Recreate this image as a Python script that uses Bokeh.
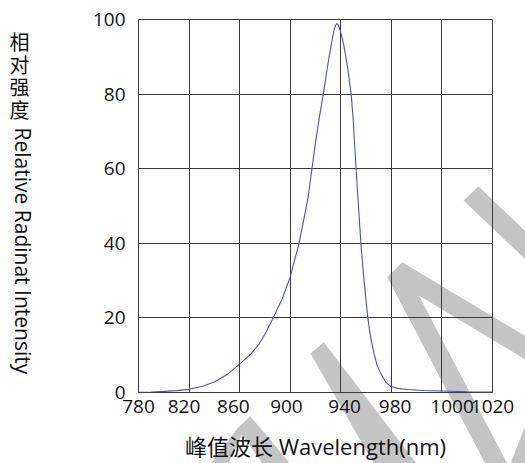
import math
from bokeh.plotting import figure
from bokeh.models import FixedTicker, Range1d, GridBox
from bokeh.core.properties import value
from bokeh.embed import file_html
from bokeh.resources import INLINE

# ---- axis definitions (axis units) ----
grid_x = [780, 820, 860, 900, 940, 980, 1020, 1060]
tick_pos = [780, 816, 855, 897, 943, 983, 1028, 1060]
tick_labels = ["780", "820", "860", "900", "940", "980", "1000", "1020"]
y_ticks = [0, 20, 40, 60, 80, 100]

# ---- spectrum ----
wavelength = [780, 790, 800, 810, 820, 830, 840, 850, 860, 868.7, 875, 880,
              885.9, 893.8, 900, 907, 914, 917.2, 920, 922.8, 926.3, 929.5,
              932.6, 934.7, 935.8, 936.8, 938, 939.5, 942.1, 945.3, 948.2,
              949.8, 952.1, 955.9, 958.4, 961.4, 963.5, 966.3, 968.8, 971.7,
              975.5, 979.6, 985, 992.8, 1005, 1020, 1040, 1060]
intensity = [0.05, 0.15, 0.3, 0.5, 0.85, 1.6, 2.8, 4.8, 7.6, 10.3, 12.8, 15.6,
             19.6, 25.2, 31, 40, 52, 60, 67, 73.2, 80.3, 87.4,
             93.6, 97.2, 98.4, 98.9, 98.6, 97.2, 93.6, 87.4, 80,
             73.2, 60, 40, 30, 20, 15, 10.4, 7.2, 5,
             2.8, 1.6, 1.1, 0.8, 0.55, 0.4, 0.2, 0.1]

# ---- texts ----
x_title = "峰值波长 Wavelength(nm)"
y_title_cn = ["相", "对", "强", "度"]
y_title_en = "Relative Radinat Intensity"

# ---- watermark strokes (canvas pixels, decoration only) ----
wm_xs = [
    [463, 478, 580, 565],
    [386.7, 401.7, 560, 560, 418.3, 515.7, 493.7],
    [510, 525, 525],
    [310, 323.3, 429, 383],
    [237, 250, 304, 274],
    [237, 250, 220, 197],
]
wm_ys = [
    [200, 186, 283, 297],
    [276.7, 261.7, 356.7, 380, 295, 480, 480],
    [463, 425, 463],
    [353, 341.7, 480, 480],
    [428, 416, 480, 480],
    [428, 416, 480, 480],
]

FONT = "Open Sans"
TXT = "#111111"
GRID = "#3a3a3a"
W, H = 525, 463

# ---------- background layer: watermark + y-axis title ----------
bg = figure(width=W, height=H, x_range=Range1d(0, W), y_range=Range1d(H, 0),
            output_backend="svg", toolbar_location=None,
            x_axis_location=None, y_axis_location=None, min_border=0)
bg.frame_align = False
bg.grid.visible = False
bg.outline_line_color = None
bg.background_fill_color = "white"
bg.border_fill_color = "white"
bg.patches(wm_xs, wm_ys, fill_color="#c4c4c4", line_color=None)

bg.text(x=[19] * len(y_title_cn), y=[41 + i * 22.7 for i in range(len(y_title_cn))],
        text=y_title_cn, text_align="center", text_baseline="middle",
        text_font=value("Noto Sans CJK SC"), text_font_size="20px", text_color=TXT)
bg.text(x=[22], y=[127], text=[y_title_en], angle=-math.pi / 2,
        text_align="left", text_baseline="middle",
        text_font=value(FONT), text_font_size="21px", text_color=TXT)

# ---------- main chart (transparent, on top) ----------
p = figure(width=W, height=H,
           x_range=Range1d(780, 1060), y_range=Range1d(0, 100),
           output_backend="svg", toolbar_location=None,
           min_border_left=138, min_border_right=33,
           min_border_top=19, min_border_bottom=67)
p.frame_align = False
p.background_fill_color = None
p.border_fill_color = None
p.outline_line_color = GRID
p.outline_line_width = 1

p.xaxis.ticker = FixedTicker(ticks=tick_pos)
p.xaxis.major_label_overrides = dict(zip(tick_pos, tick_labels))
p.yaxis.ticker = FixedTicker(ticks=y_ticks)
p.xgrid.ticker = FixedTicker(ticks=grid_x)
p.ygrid.ticker = FixedTicker(ticks=y_ticks)

for g in (p.xgrid, p.ygrid):
    g.grid_line_color = GRID
    g.grid_line_alpha = 1.0
    g.grid_line_width = 1

for ax in (p.xaxis, p.yaxis):
    ax.axis_line_color = None
    ax.major_tick_line_color = None
    ax.minor_tick_line_color = None
    ax.major_tick_out = 0
    ax.major_tick_in = 0
    ax.major_label_text_font = FONT
    ax.major_label_text_font_size = "19px"
    ax.major_label_text_color = TXT

p.xaxis.major_label_standoff = 7
p.yaxis.major_label_standoff = 13

p.xaxis.axis_label = x_title
p.xaxis.axis_label_text_font = "Open Sans, Noto Sans CJK SC"
p.xaxis.axis_label_text_font_size = "22px"
p.xaxis.axis_label_text_font_style = "normal"
p.xaxis.axis_label_text_color = TXT
p.xaxis.axis_label_standoff = 15

p.line(wavelength, intensity, line_color="#4d4dc8", line_width=1.1)

layout = GridBox(children=[(bg, 0, 0), (p, 0, 0)])

open("out.html", "w").write(file_html(layout, INLINE))
